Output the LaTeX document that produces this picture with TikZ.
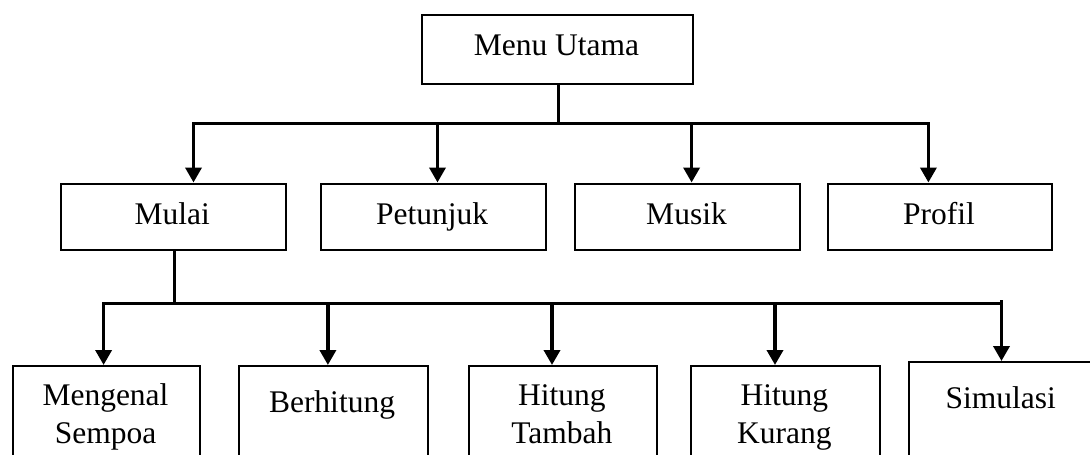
\documentclass[tikz,border=0pt]{standalone}
\usepackage{fontspec}
\setmainfont{Liberation Serif}
\usetikzlibrary{arrows.meta}
\begin{document}
\begin{tikzpicture}[x=1pt,y=-1pt,
  box/.style={draw, line width=2pt, rectangle, inner sep=0pt, anchor=north west},
  lbl/.style={font=\fontsize{31.5}{38}\selectfont, inner sep=0pt, anchor=base, align=center},
  link/.style={line width=3.6pt},
  tip/.style={-{Triangle[length=15pt,width=16pt]}},
  tips/.style={{Triangle[length=15pt,width=16pt]}-{Triangle[length=15pt,width=16pt]}}]
\clip (0,0) rectangle (1090,455);

% level 0
\node[box, minimum width=271.6pt, minimum height=68.2pt] (menu) at (420.7,14.3) {};
\node[lbl] (menu-t) at (556.5,55) {Menu Utama};

% level 1
\node[box, minimum width=225.4pt, minimum height=66.8pt] (mulai)    at (59.6,182.5) {};
\node[box, minimum width=225pt,   minimum height=66.8pt] (petunjuk) at (319.6,182.5) {};
\node[box, minimum width=225pt,   minimum height=66.8pt] (musik)    at (574,182.5) {};
\node[box, minimum width=224.5pt, minimum height=66.8pt] (profil)   at (826.7,182.5) {};
\node[lbl] (mulai-t)    at (172.3,224) {Mulai};
\node[lbl] (petunjuk-t) at (432.1,224) {Petunjuk};
\node[lbl] (musik-t)    at (686.5,224) {Musik};
\node[lbl] (profil-t)   at (939,224) {Profil};

% level 2 (two-line labels sit on the baseline of their last line)
\node[box, minimum width=187pt,   minimum height=120pt] (mengenal)  at (12,365) {};
\node[box, minimum width=189pt,   minimum height=120pt] (berhitung) at (237.5,365) {};
\node[box, minimum width=188.5pt, minimum height=120pt] (tambah)    at (467.5,365) {};
\node[box, minimum width=189.5pt, minimum height=120pt] (kurang)    at (689.5,365) {};
\node[box, minimum width=200pt,   minimum height=124pt] (simulasi)  at (908.4,361) {};
\node[lbl] (mengenal-t)  at (105.5,443) {Mengenal\\Sempoa};
\node[lbl] (berhitung-t) at (332,412.7) {Berhitung};
\node[lbl] (tambah-t)    at (561.8,443) {Hitung\\Tambah};
\node[lbl] (kurang-t)    at (784.3,443) {Hitung\\Kurang};
\node[lbl] (simulasi-t)  at (1000.8,408.3) {Simulasi};

% connectors from the main menu
\coordinate (hub1) at (558.3,123.5);
\coordinate (b1l) at (193.5,123.5);
\coordinate (b1p) at (437.5,123.5);
\coordinate (b1m) at (691.6,123.5);
\coordinate (b1r) at (928.4,123.5);
\draw[link] (menu.south -| hub1) -- (hub1);
\draw[link, tips] (mulai.north -| b1l) -- (b1l) -- (b1r) -- (profil.north -| b1r);
\draw[link, tip] (b1p) -- (petunjuk.north -| b1p);
\draw[link, tip] (b1m) -- (musik.north -| b1m);

% connectors from Mulai
\coordinate (hub2) at (174.3,303.3);
\coordinate (b2l) at (103.6,303.3);
\coordinate (b2b) at (327.9,303.3);
\coordinate (b2t) at (552,303.3);
\coordinate (b2k) at (775,303.3);
\coordinate (b2r) at (1001.5,303.3);
\draw[link] (mulai.south -| hub2) -- (hub2);
\draw[link, tip] (b2r) -- (b2l) -- (mengenal.north -| b2l);
\draw[link, tip] (b2b) -- (berhitung.north -| b2b);
\draw[link, tip] (b2t) -- (tambah.north -| b2t);
\draw[link, tip] (b2k) -- (kurang.north -| b2k);
\draw[link, tip] ([yshift=3pt]b2r) -- (simulasi.north -| b2r);
\end{tikzpicture}
\end{document}
